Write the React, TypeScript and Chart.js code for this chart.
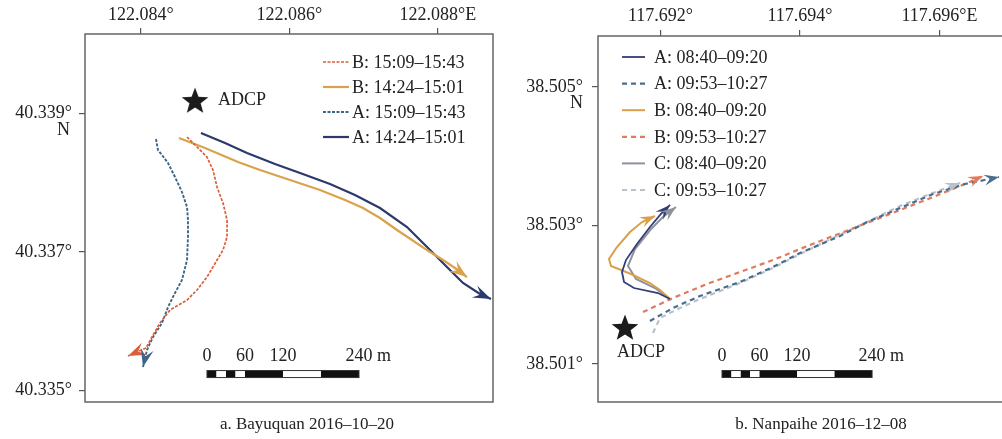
import React, { useEffect, useRef } from "react";
import { Chart, registerables } from "chart.js";
Chart.register(...registerables);

const FONT = "'Liberation Serif', 'Times New Roman', serif";

// ---------- Panel a: Bayuquan 2016-10-20 ----------
const aXTicks = [122.084, 122.086, 122.088];
const aXTickLabels = ["122.084°", "122.086°", "122.088°E"];
const aYTicks = [40.335, 40.337, 40.339];
const aYTickLabels = ["40.335°", "40.337°", "40.339°"];
const aXRange = [122.083248, 122.088743];
const aYRange = [40.334836, 40.340142];

const aB2Lon = [122.084622, 122.084757, 122.084891, 122.084972, 122.085026, 122.085107, 122.085161, 122.085161, 122.085107, 122.085026, 122.084891, 122.084757, 122.084622, 122.084393, 122.084258, 122.08415, 122.08407, 122.083827];
const aB2Lat = [40.338657, 40.338513, 40.338368, 40.338181, 40.337936, 40.337705, 40.33746, 40.337215, 40.337027, 40.336883, 40.336638, 40.336451, 40.336306, 40.336162, 40.335975, 40.335773, 40.335614, 40.335499];
const aB1Lon = [122.084514, 122.084864, 122.085309, 122.085605, 122.086009, 122.086413, 122.08675, 122.086992, 122.087221, 122.08745, 122.087652, 122.087854, 122.08807, 122.088231, 122.088393];
const aB1Lat = [40.338642, 40.338498, 40.338296, 40.338181, 40.338037, 40.337893, 40.337748, 40.337633, 40.337489, 40.337316, 40.337172, 40.337027, 40.336883, 40.336768, 40.336638];
const aA2Lon = [122.084204, 122.084231, 122.084285, 122.084366, 122.08446, 122.084554, 122.084622, 122.084635, 122.084635, 122.084622, 122.084554, 122.08446, 122.084366, 122.084285, 122.084164, 122.084083, 122.084029];
const aA2Lat = [40.338628, 40.338469, 40.338397, 40.338282, 40.33808, 40.337864, 40.337647, 40.33746, 40.337215, 40.336883, 40.336595, 40.336407, 40.336205, 40.335975, 40.335773, 40.335585, 40.33534];
const aA1Lon = [122.08481, 122.085134, 122.08543, 122.085807, 122.086144, 122.086548, 122.086884, 122.087221, 122.087585, 122.087895, 122.088123, 122.088339, 122.088568, 122.088716];
const aA1Lat = [40.338715, 40.33857, 40.338426, 40.338268, 40.338138, 40.337979, 40.337821, 40.337633, 40.337359, 40.337027, 40.336782, 40.336552, 40.336393, 40.336321];
const aAdcp = { lon: 122.08473, lat: 40.33919 };
const aScaleBar = { lon: 122.084891, lat: 40.335239, deg240: 0.002047 };

// ---------- Panel b: Nanpaihe 2016-12-08 ----------
const bXTicks = [117.692, 117.694, 117.696];
const bXTickLabels = ["117.692°", "117.694°", "117.696°E"];
const bYTicks = [38.501, 38.503, 38.505];
const bYTickLabels = ["38.501°", "38.503°", "38.505°"];
const bXRange = [117.691104, 117.696953];
const bYRange = [38.500449, 38.505734];

const bA1Lon = [117.692136, 117.691964, 117.69162, 117.691477, 117.691448, 117.691505, 117.691663, 117.691849, 117.692007, 117.692136];
const bA1Lat = [38.501936, 38.502023, 38.502095, 38.502182, 38.502326, 38.502499, 38.50273, 38.502976, 38.503164, 38.503294];
const bA2Lon = [117.691849, 117.692179, 117.692566, 117.69314, 117.693613, 117.694, 117.694573, 117.694961, 117.695434, 117.695907, 117.696366, 117.696853];
const bA2Lat = [38.501619, 38.501806, 38.50198, 38.502182, 38.502398, 38.5026, 38.502846, 38.503048, 38.50325, 38.503452, 38.503597, 38.503698];
const bB1Lon = [117.692136, 117.691993, 117.691849, 117.691577, 117.69129, 117.691262, 117.691376, 117.691563, 117.691735, 117.691921];
const bB1Lat = [38.501936, 38.502066, 38.502167, 38.502297, 38.502413, 38.502514, 38.502687, 38.502904, 38.503048, 38.503135];
const bB2Lon = [117.691749, 117.692179, 117.692667, 117.69314, 117.693613, 117.694, 117.694473, 117.694961, 117.695434, 117.695907, 117.696294, 117.696624];
const bB2Lat = [38.501748, 38.501951, 38.502153, 38.502326, 38.502499, 38.502658, 38.502846, 38.503034, 38.503221, 38.503409, 38.503568, 38.503712];
const bC1Lon = [117.692151, 117.691921, 117.691649, 117.691534, 117.691634, 117.691864, 117.692036, 117.692222];
const bC1Lat = [38.501922, 38.502095, 38.502225, 38.502413, 38.502658, 38.502947, 38.50312, 38.503265];
const bC2Lon = [117.691892, 117.691993, 117.69228, 117.692566, 117.69314, 117.693613, 117.694, 117.694473, 117.694961, 117.695434, 117.695864, 117.696294];
const bC2Lat = [38.501445, 38.501662, 38.501806, 38.501936, 38.502167, 38.502384, 38.502586, 38.502817, 38.503048, 38.503279, 38.503452, 38.503611];
const bAdcp = { lon: 117.691491, lat: 38.501532 };
const bScaleBar = { lon: 117.692882, lat: 38.500853, deg240: 0.002151 };

// scale bar, metres
const scaleSegmentsM = [0, 15, 30, 45, 60, 120, 180, 240];
const scaleLabelsM = [0, 60, 120, 240];

const toPts = (lon: number[], lat: number[]) => lon.map((x, i) => ({ x, y: lat[i] }));

function makeStar(size: number) {
  const c = document.createElement("canvas");
  c.width = size;
  c.height = size;
  const g = c.getContext("2d")!;
  const R = size / 2;
  const r = R * 0.42;
  g.beginPath();
  for (let i = 0; i < 10; i++) {
    const rad = i % 2 === 0 ? R : r;
    const ang = -Math.PI / 2 + (i * Math.PI) / 5;
    g.lineTo(R + rad * Math.cos(ang), R + 1.5 + rad * Math.sin(ang));
  }
  g.closePath();
  g.fillStyle = "#1b1b1b";
  g.fill();
  return c;
}

function drawArrow(ctx: any, x0: number, y0: number, x1: number, y1: number, color: string, len: number, wid: number) {
  const ang = Math.atan2(y1 - y0, x1 - x0);
  ctx.save();
  ctx.translate(x1, y1);
  ctx.rotate(ang);
  ctx.beginPath();
  ctx.moveTo(0, 0);
  ctx.lineTo(-len, -wid / 2);
  ctx.lineTo(-len * 0.62, 0);
  ctx.lineTo(-len, wid / 2);
  ctx.closePath();
  ctx.fillStyle = color;
  ctx.fill();
  ctx.restore();
}

function buildChart(canvas: HTMLCanvasElement, cfg: any) {
  const star = makeStar(28);
  const datasets: any[] = cfg.series.map((s: any) => ({
    label: s.label,
    data: toPts(s.lon, s.lat),
    showLine: true,
    borderColor: s.color,
    backgroundColor: s.color,
    borderWidth: s.width,
    borderDash: s.dash || [],
    pointRadius: 0,
    pointHoverRadius: 0,
    tension: 0,
    fill: false,
  }));
  datasets.push({
    label: "ADCP",
    data: [{ x: cfg.adcp.lon, y: cfg.adcp.lat }],
    showLine: false,
    pointStyle: star,
    pointRadius: 14,
    borderWidth: 0,
  });
  const nSeries = cfg.series.length;
  const area = cfg.area;

  const decor = {
    id: "decor",
    afterDatasetsDraw(chart: any) {
      const ctx = chart.ctx;
      const a = chart.chartArea;
      ctx.save();
      ctx.beginPath();
      ctx.rect(a.left, a.top, a.right - a.left, a.bottom - a.top);
      ctx.clip();
      for (let i = 0; i < nSeries; i++) {
        const pts = chart.getDatasetMeta(i).data;
        const n = pts.length;
        drawArrow(ctx, pts[n - 2].x, pts[n - 2].y, pts[n - 1].x, pts[n - 1].y, cfg.series[i].color, cfg.arrowLen, cfg.arrowWid);
      }
      ctx.restore();
    },
    afterDraw(chart: any) {
      const ctx = chart.ctx;
      const a = chart.chartArea;
      const xs = chart.scales.x;
      const ys = chart.scales.y;
      ctx.save();
      // frame
      ctx.strokeStyle = "#666";
      ctx.lineWidth = 1.5;
      ctx.strokeRect(a.left, a.top, a.right - a.left, a.bottom - a.top);

      ctx.fillStyle = "#222";
      ctx.font = `18px ${FONT}`;
      ctx.textBaseline = "middle";

      // "N" under top latitude label
      ctx.textAlign = "right";
      ctx.fillText("N", a.left - 15, ys.getPixelForValue(cfg.yTicks[cfg.yTicks.length - 1]) + cfg.nDy);

      // legend
      const lg = cfg.legend;
      lg.order.forEach((idx: number, r: number) => {
        const s = cfg.series[idx];
        const y = a.top + lg.y + r * lg.rowH;
        const x0 = lg.fromRight ? a.right - lg.x : a.left + lg.x;
        ctx.save();
        ctx.strokeStyle = s.color;
        ctx.lineWidth = s.width;
        ctx.setLineDash(s.dash || []);
        ctx.beginPath();
        ctx.moveTo(x0, y);
        ctx.lineTo(x0 + lg.sample, y);
        ctx.stroke();
        ctx.restore();
        ctx.textAlign = "left";
        ctx.fillStyle = "#222";
        ctx.fillText(s.label, x0 + lg.textX, y + 1);
      });

      // ADCP label
      const ap = chart.getDatasetMeta(nSeries).data[0];
      ctx.textAlign = cfg.adcpLabel.align;
      ctx.fillText("ADCP", ap.x + cfg.adcpLabel.dx, ap.y + cfg.adcpLabel.dy);

      // scale bar
      const sb = cfg.scaleBar;
      const py = ys.getPixelForValue(sb.lat);
      const px = (m: number) => xs.getPixelForValue(sb.lon + (m / 240) * sb.deg240);
      for (let k = 0; k < scaleSegmentsM.length - 1; k++) {
        const x0 = px(scaleSegmentsM[k]);
        const x1 = px(scaleSegmentsM[k + 1]);
        ctx.fillStyle = k % 2 === 0 ? "#111" : "#fff";
        ctx.fillRect(x0, py - 3.5, x1 - x0, 7);
      }
      ctx.strokeStyle = "#333";
      ctx.lineWidth = 1;
      ctx.strokeRect(px(0), py - 3.5, px(240) - px(0), 7);
      ctx.fillStyle = "#222";
      scaleLabelsM.forEach((m, i) => {
        const last = i === scaleLabelsM.length - 1;
        const txt = String(m);
        if (last) {
          const w = ctx.measureText(txt).width;
          ctx.textAlign = "left";
          ctx.fillText(txt + " m", px(m) - w / 2, py - 18);
        } else {
          ctx.textAlign = "center";
          ctx.fillText(txt, px(m), py - 18);
        }
      });

      // caption
      ctx.font = `17px ${FONT}`;
      ctx.textAlign = "center";
      ctx.fillText(cfg.caption, (a.left + a.right) / 2 + cfg.captionDx, cfg.captionY);
      ctx.restore();
    },
  };

  const tickFont = { family: FONT, size: 18 };
  return new Chart(canvas, {
    type: "scatter",
    data: { datasets },
    plugins: [decor],
    options: {
      responsive: false,
      animation: false,
      events: [],
      layout: {
        autoPadding: false,
        padding: { left: 0, top: 0, right: cfg.width - area.right, bottom: cfg.height - area.bottom },
      },
      plugins: { legend: { display: false }, tooltip: { enabled: false }, title: { display: false } },
      scales: {
        x: {
          type: "linear",
          position: "top",
          min: cfg.xRange[0],
          max: cfg.xRange[1],
          afterBuildTicks: (s: any) => {
            s.ticks = cfg.xTicks.map((v: number) => ({ value: v }));
          },
          afterFit: (s: any) => {
            s.height = area.top;
            s.paddingLeft = 0;
            s.paddingRight = 0;
            s.paddingTop = 0;
            s.paddingBottom = 0;
          },
          ticks: {
            callback: (_v: any, i: number) => cfg.xTickLabels[i],
            font: tickFont,
            color: "#222",
            padding: cfg.xPad,
            maxRotation: 0,
            autoSkip: false,
          },
          grid: { drawOnChartArea: false, drawTicks: true, tickLength: 6, color: "#555", lineWidth: 1.2 },
          border: { display: false },
        },
        y: {
          type: "linear",
          position: "left",
          min: cfg.yRange[0],
          max: cfg.yRange[1],
          afterBuildTicks: (s: any) => {
            s.ticks = cfg.yTicks.map((v: number) => ({ value: v }));
          },
          afterFit: (s: any) => {
            s.width = area.left;
            s.paddingLeft = 0;
            s.paddingRight = 0;
            s.paddingTop = 0;
            s.paddingBottom = 0;
          },
          ticks: {
            callback: (_v: any, i: number) => cfg.yTickLabels[i],
            font: tickFont,
            color: "#222",
            padding: cfg.yPad,
            autoSkip: false,
          },
          grid: { drawOnChartArea: false, drawTicks: true, tickLength: 6, color: "#555", lineWidth: 1.2 },
          border: { display: false },
        },
      },
    } as any,
  });
}

const cfgA = {
  width: 500,
  height: 439,
  area: { left: 85, top: 34, right: 493, bottom: 402 },
  xRange: aXRange,
  yRange: aYRange,
  xTicks: aXTicks,
  xTickLabels: aXTickLabels,
  yTicks: aYTicks,
  yTickLabels: aYTickLabels,
  xPad: 2,
  yPad: 7,
  nDy: 17,
  arrowLen: 18,
  arrowWid: 13,
  series: [
    { label: "B: 15:09–15:43", lon: aB2Lon, lat: aB2Lat, color: "#d95f3b", width: 1.7, dash: [3, 1.5] },
    { label: "B: 14:24–15:01", lon: aB1Lon, lat: aB1Lat, color: "#dba24c", width: 2.2 },
    { label: "A: 15:09–15:43", lon: aA2Lon, lat: aA2Lat, color: "#3d6689", width: 1.9, dash: [3, 1.5] },
    { label: "A: 14:24–15:01", lon: aA1Lon, lat: aA1Lat, color: "#2c396b", width: 2.2 },
  ],
  legend: { order: [0, 1, 2, 3], fromRight: true, x: 170, y: 28, rowH: 25, sample: 26, textX: 29 },
  adcp: aAdcp,
  adcpLabel: { dx: 23, dy: 0, align: "left" },
  scaleBar: aScaleBar,
  caption: "a. Bayuquan 2016–10–20",
  captionDx: 18,
  captionY: 425,
};

const cfgB = {
  width: 512,
  height: 439,
  area: { left: 98, top: 36, right: 506, bottom: 402 },
  xRange: bXRange,
  yRange: bYRange,
  xTicks: bXTicks,
  xTickLabels: bXTickLabels,
  yTicks: bYTicks,
  yTickLabels: bYTickLabels,
  xPad: 3,
  yPad: 9,
  nDy: 16,
  arrowLen: 15,
  arrowWid: 11,
  series: [
    { label: "A: 08:40–09:20", lon: bA1Lon, lat: bA1Lat, color: "#333d78", width: 1.8 },
    { label: "A: 09:53–10:27", lon: bA2Lon, lat: bA2Lat, color: "#4b6e8e", width: 2.2, dash: [5, 4] },
    { label: "B: 08:40–09:20", lon: bB1Lon, lat: bB1Lat, color: "#d9a048", width: 2 },
    { label: "B: 09:53–10:27", lon: bB2Lon, lat: bB2Lat, color: "#e07b5c", width: 2.2, dash: [5, 4] },
    { label: "C: 08:40–09:20", lon: bC1Lon, lat: bC1Lat, color: "#8f929b", width: 2 },
    { label: "C: 09:53–10:27", lon: bC2Lon, lat: bC2Lat, color: "#b8c2cd", width: 2.2, dash: [5, 4] },
  ],
  legend: { order: [0, 1, 2, 3, 4, 5], fromRight: false, x: 24, y: 21, rowH: 26.6, sample: 23, textX: 32 },
  adcp: bAdcp,
  adcpLabel: { dx: 16, dy: 25, align: "center" },
  scaleBar: bScaleBar,
  caption: "b. Nanpaihe 2016–12–08",
  captionDx: 19,
  captionY: 425,
};

export default function App() {
  const refA = useRef<HTMLCanvasElement>(null);
  const refB = useRef<HTMLCanvasElement>(null);
  useEffect(() => {
    const ca = buildChart(refA.current!, cfgA);
    const cb = buildChart(refB.current!, cfgB);
    return () => {
      ca.destroy();
      cb.destroy();
    };
  }, []);
  return (
    <div style={{ position: "fixed", left: 0, top: 0, width: 1002, height: 439, overflow: "hidden", background: "#fff" }}>
      <canvas ref={refA} width={500} height={439} style={{ position: "absolute", left: 0, top: 0, display: "block" }} />
      <canvas ref={refB} width={512} height={439} style={{ position: "absolute", left: 500, top: 0, display: "block" }} />
    </div>
  );
}
